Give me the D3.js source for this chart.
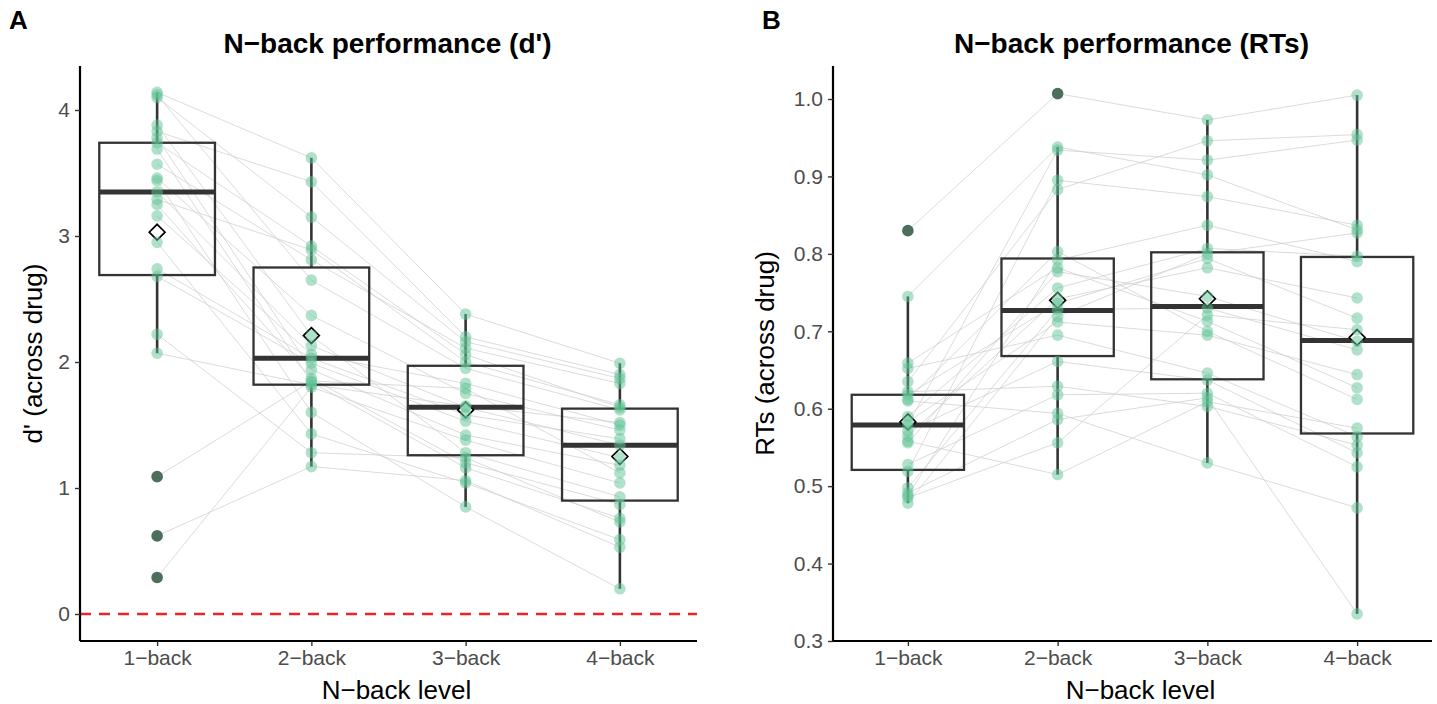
<!DOCTYPE html>
<html><head><meta charset="utf-8">
<script src="https://cdn.jsdelivr.net/npm/d3@7"></script>
<style>body{margin:0;background:#fff}svg{display:block}</style>
</head><body>
<svg id="c" width="1437" height="704"></svg>
<script>
// ---------- DATA ----------
const levels = ["1\u2212back", "2\u2212back", "3\u2212back", "4\u2212back"];

// Panel A: d' per subject (index = subject)
const dprime1 = [4.14, 4.12, 4.10, 3.88, 3.83, 3.78, 3.74, 3.69, 3.57, 3.46, 3.44, 3.35, 3.29, 3.25, 3.16, 2.95, 2.74, 2.68, 2.22, 2.07, 1.09, 0.62, 0.29];
const dprime2 = [3.62, 2.65, 3.15, 2.21, 3.43, 1.94, 2.92, 1.84, 2.81, 2.37, 1.60, 2.13, 2.89, 1.87, 2.06, 1.43, 2.03, 1.99, 1.28, 1.82, 1.85, 1.17, 1.80];
const dprime3 = [2.38, 1.95, 2.16, 1.28, 2.20, 1.42, 2.06, 1.16, 2.11, 1.75, 0.85, 1.64, 2.00, 1.20, 1.83, 1.04, 1.58, 1.53, 1.24, 1.65, 1.79, 1.06, 1.38];
const dprime4 = [1.99, 1.62, 1.87, 0.93, 1.90, 1.18, 1.64, 0.76, 1.83, 1.46, 0.20, 1.34, 1.66, 0.87, 1.50, 0.59, 1.39, 1.24, 0.73, 1.52, 1.12, 0.53, 1.04];
// Panel A box statistics per level
const dQ1   = [2.69, 1.82, 1.26, 0.90];
const dMed  = [3.35, 2.03, 1.64, 1.34];
const dQ3   = [3.74, 2.75, 1.97, 1.63];
const dLo   = [2.07, 1.17, 0.85, 0.20];
const dHi   = [4.14, 3.62, 2.38, 1.99];
const dMean = [3.03, 2.21, 1.62, 1.25];
const dTicks = [0, 1, 2, 3, 4];

// Panel B: RTs per subject
const rt1 = [0.830, 0.745, 0.659, 0.652, 0.635, 0.622, 0.618, 0.612, 0.610, 0.590, 0.583, 0.579, 0.571, 0.565, 0.558, 0.556, 0.528, 0.519, 0.498, 0.491, 0.488, 0.485, 0.478];
const rt2 = [1.007, 0.938, 0.782, 0.695, 0.883, 0.629, 0.736, 0.803, 0.594, 0.756, 0.712, 0.934, 0.661, 0.742, 0.515, 0.777, 0.618, 0.895, 0.728, 0.586, 0.792, 0.556, 0.719];
const rt3 = [0.973, 0.902, 0.713, 0.646, 0.946, 0.603, 0.794, 0.700, 0.530, 0.807, 0.695, 0.921, 0.637, 0.782, 0.609, 0.745, 0.620, 0.874, 0.730, 0.614, 0.837, 0.721, 0.800];
const rt4 = [1.005, 0.831, 0.627, 0.564, 0.954, 0.553, 0.717, 0.612, 0.472, 0.797, 0.644, 0.947, 0.543, 0.743, 0.575, 0.687, 0.525, 0.837, 0.676, 0.335, 0.790, 0.702, 0.827];
const rQ1   = [0.521, 0.668, 0.638, 0.568];
const rMed  = [0.579, 0.727, 0.732, 0.688];
const rQ3   = [0.618, 0.794, 0.802, 0.796];
const rLo   = [0.478, 0.515, 0.530, 0.335];
const rHi   = [0.745, 0.938, 0.973, 1.005];
const rMean = [0.583, 0.740, 0.742, 0.692];
const rTicks = [0.3, 0.4, 0.5, 0.6, 0.7, 0.8, 0.9, 1.0];

// ---------- DRAW ----------
const svg = d3.select("#c");
const PT = "#62c496", DARK = "#4b6f5b";
const FONT = "'Liberation Sans', Arial, sans-serif";

function panel(o) {
  const g = svg.append("g");
  const x = d3.scalePoint().domain(levels).range([o.x0, o.x1]).padding(0.5);
  const y0 = d3.scaleLinear().domain(o.ref).range(o.refPx);
  const y = d3.scaleLinear().domain([y0.invert(o.bottom), y0.invert(o.top)]).range([o.bottom, o.top]);
  const series = o.series;
  const n = series[0].length;
  const bw = x.step() * 0.75;

  if (o.zero !== undefined) {
    g.append("line").attr("x1", o.x0).attr("x2", o.x1)
      .attr("y1", y(o.zero)).attr("y2", y(o.zero))
      .attr("stroke", "#e8262a").attr("stroke-width", 2.4).attr("stroke-dasharray", "11,8");
  }
  const line = d3.line().x(d => x(d[0])).y(d => y(d[1]));
  for (let i = 0; i < n; i++) {
    g.append("path").datum(levels.map((l, k) => [l, series[k][i]]))
      .attr("d", line).attr("fill", "none").attr("stroke", "#cfcfcf")
      .attr("stroke-opacity", 0.75).attr("stroke-width", 1);
  }
  levels.forEach((l, k) => {
    const cx = x(l);
    g.append("line").attr("x1", cx).attr("x2", cx).attr("y1", y(o.hi[k])).attr("y2", y(o.q3[k]))
      .attr("stroke", "#333").attr("stroke-width", 2.6);
    g.append("line").attr("x1", cx).attr("x2", cx).attr("y1", y(o.q1[k])).attr("y2", y(o.lo[k]))
      .attr("stroke", "#333").attr("stroke-width", 2.6);
    g.append("rect").attr("x", cx - bw / 2).attr("width", bw)
      .attr("y", y(o.q3[k])).attr("height", y(o.q1[k]) - y(o.q3[k]))
      .attr("fill", "none").attr("stroke", "#333").attr("stroke-width", 2.3);
    g.append("line").attr("x1", cx - bw / 2).attr("x2", cx + bw / 2)
      .attr("y1", y(o.med[k])).attr("y2", y(o.med[k]))
      .attr("stroke", "#333").attr("stroke-width", 5);
  });
  const sym = d3.symbol().type(d3.symbolDiamond2).size(160);
  levels.forEach((l, k) => {
    g.append("path").attr("d", sym)
      .attr("transform", `translate(${x(l)},${y(o.mean[k])})`)
      .attr("fill", "#fff").attr("stroke", "#000").attr("stroke-width", 1.7);
  });
  levels.forEach((l, k) => {
    series[k].forEach(v => {
      const out = v < o.lo[k] - 1e-9 || v > o.hi[k] + 1e-9;
      g.append("circle").attr("cx", x(l)).attr("cy", y(v)).attr("r", 5.8)
        .attr("fill", out ? DARK : PT).attr("fill-opacity", out ? 1 : 0.5);
    });
  });
  const ya = g.append("g").attr("transform", `translate(${o.x0},0)`)
    .call(d3.axisLeft(y).tickValues(o.ticks).tickFormat(o.fmt).tickSize(5).tickPadding(5));
  ya.select(".domain").attr("stroke", "#000").attr("stroke-width", 2.2).attr("d", `M0,${o.top}V${o.bottom}`);
  ya.selectAll(".tick line").attr("stroke", "#333").attr("stroke-width", 1.4);
  ya.selectAll(".tick text").attr("fill", "#4d4d4d").style("font", `21px ${FONT}`);
  const xa = g.append("g").attr("transform", `translate(0,${o.bottom})`)
    .call(d3.axisBottom(x).tickSize(5).tickPadding(4));
  xa.select(".domain").attr("stroke", "#000").attr("stroke-width", 2.2).attr("d", `M${o.x0},0H${o.x1}`);
  xa.selectAll(".tick line").attr("stroke", "#333").attr("stroke-width", 1.4);
  xa.selectAll(".tick text").attr("fill", "#4d4d4d").style("font", `21px ${FONT}`);

  g.append("text").attr("x", (o.x0 + o.x1) / 2 - 1).attr("y", 53).attr("text-anchor", "middle")
    .style("font", `bold 28px ${FONT}`).text(o.title);
  g.append("text").attr("x", (o.x0 + o.x1) / 2 + 8).attr("y", 699).attr("text-anchor", "middle")
    .style("font", `26px ${FONT}`).text("N\u2212back level");
  g.append("text").attr("transform", `translate(${o.ytx},${(o.top + o.bottom) / 2}) rotate(-90)`)
    .attr("text-anchor", "middle").style("font", `26px ${FONT}`).text(o.ytitle);
  g.append("text").attr("x", o.tagx).attr("y", 29)
    .style("font", `bold 26px 'Liberation Sans Narrow', ${FONT}`).text(o.tag);
}

panel({
  x0: 80, x1: 697, top: 66, bottom: 641, ref: [0, 4], refPx: [614, 110],
  series: [dprime1, dprime2, dprime3, dprime4],
  q1: dQ1, med: dMed, q3: dQ3, lo: dLo, hi: dHi, mean: dMean,
  ticks: dTicks, fmt: d3.format("d"), zero: 0,
  title: "N\u2212back performance (d')", ytitle: "d' (across drug)", ytx: 42, tag: "A", tagx: 9
});
panel({
  x0: 833, x1: 1432, top: 66, bottom: 641, ref: [0.3, 1.0], refPx: [641, 99],
  series: [rt1, rt2, rt3, rt4],
  q1: rQ1, med: rMed, q3: rQ3, lo: rLo, hi: rHi, mean: rMean,
  ticks: rTicks, fmt: d3.format(".1f"),
  title: "N\u2212back performance (RTs)", ytitle: "RTs (across drug)", ytx: 774, tag: "B", tagx: 762
});
</script>
</body></html>
